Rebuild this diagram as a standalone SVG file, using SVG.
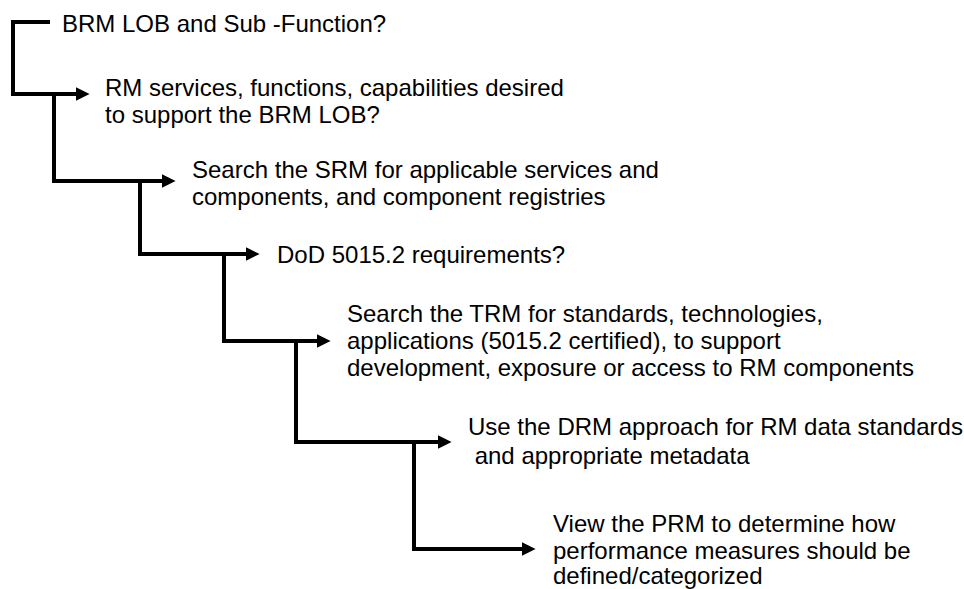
<svg xmlns="http://www.w3.org/2000/svg" width="964" height="589" viewBox="0 0 964 589">
  <style>
    .step { font-family: "Liberation Sans", Arial, sans-serif; font-size: 24px; fill: #000; }
    .flow { fill: none; stroke: #000; stroke-width: 4; stroke-linejoin: miter; }
  </style>
  <defs>
    <marker id="head" viewBox="0 0 10 10" refX="0" refY="5" markerWidth="4" markerHeight="3.4" markerUnits="strokeWidth" orient="auto">
      <path d="M0,0 L10,5 L0,10 Z" fill="#000"/>
    </marker>
  </defs>
  <rect width="964" height="589" fill="#fff"/>

  <!-- stair-step connectors, each drops from the previous step -->
  <g id="connectors">
    <path class="flow" d="M50,22 H13 V94 H76" marker-end="url(#head)"/>
    <path class="flow" d="M54,94 V181 H162" marker-end="url(#head)"/>
    <path class="flow" d="M140,181 V254 H246" marker-end="url(#head)"/>
    <path class="flow" d="M224,254 V341 H317" marker-end="url(#head)"/>
    <path class="flow" d="M296,341 V442 H438" marker-end="url(#head)"/>
    <path class="flow" d="M414,442 V549 H522" marker-end="url(#head)"/>
  </g>

  <g id="brm-lob">
    <text class="step" x="62" y="32">BRM LOB and Sub -Function?</text>
  </g>
  <g id="rm-services">
    <text class="step" x="105" y="96">RM services, functions, capabilities desired</text>
    <text class="step" x="105" y="123">to support the BRM LOB?</text>
  </g>
  <g id="srm-search">
    <text class="step" x="192" y="178">Search the SRM for applicable services and</text>
    <text class="step" x="192" y="205">components, and component registries</text>
  </g>
  <g id="dod-5015">
    <text class="step" x="277" y="263">DoD 5015.2 requirements?</text>
  </g>
  <g id="trm-search">
    <text class="step" x="347" y="322">Search the TRM for standards, technologies,</text>
    <text class="step" x="347" y="349">applications (5015.2 certified), to support</text>
    <text class="step" x="347" y="376">development, exposure or access to RM components</text>
  </g>
  <g id="drm-approach">
    <text class="step" x="468" y="435">Use the DRM approach for RM data standards</text>
    <text class="step" x="468" y="464" xml:space="preserve"> and appropriate metadata</text>
  </g>
  <g id="prm-view">
    <text class="step" x="553" y="532">View the PRM to determine how</text>
    <text class="step" x="553" y="559">performance measures should be</text>
    <text class="step" x="553" y="584">defined/categorized</text>
  </g>
</svg>
